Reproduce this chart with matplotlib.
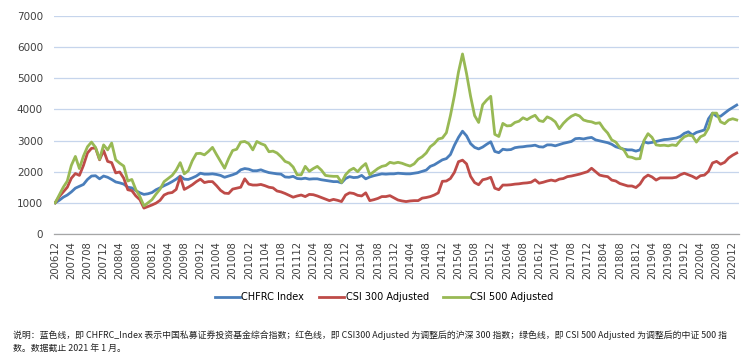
import matplotlib
matplotlib.use("Agg")
import matplotlib.pyplot as plt
import pandas as pd

# monthly points, 2006-12 .. 2021-01
months = pd.period_range("2006-12", "2021-01", freq="M")
month_labels = [p.strftime("%Y%m") for p in months]

chfrc = [
    1000, 1080, 1180, 1250, 1350, 1470, 1530, 1590, 1750, 1860, 1870, 1770,
    1860, 1820, 1750, 1670, 1640, 1600, 1500, 1480, 1390, 1320, 1270, 1290,
    1330, 1420, 1480, 1550, 1610, 1680, 1760, 1860, 1760, 1750, 1800, 1860,
    1950, 1920, 1920, 1930, 1910, 1880, 1820, 1860, 1900, 1950, 2060, 2100,
    2080, 2030, 2030, 2060, 2010, 1970, 1950, 1930, 1920, 1830, 1820, 1850,
    1780, 1770, 1790, 1760, 1770, 1770, 1740, 1720, 1700, 1680, 1680, 1640,
    1780, 1840, 1810, 1820, 1880, 1770, 1830, 1870, 1900, 1930, 1920, 1930,
    1930, 1950, 1940, 1930, 1930, 1950, 1970, 2010, 2050, 2170, 2220, 2300,
    2380, 2420, 2550, 2850, 3100, 3300, 3150, 2900, 2780, 2730, 2790, 2880,
    2960, 2650, 2610, 2720, 2700, 2710, 2770, 2790, 2800, 2820, 2830, 2850,
    2800, 2790, 2860, 2860, 2830, 2870, 2910, 2940, 2970, 3060, 3070, 3050,
    3080, 3100, 3020, 2990, 2960, 2930, 2880, 2800, 2760, 2720, 2700, 2700,
    2660, 2700, 2960, 2920, 2940, 2970, 3000, 3030, 3040, 3060, 3080, 3130,
    3230, 3280, 3180, 3260, 3300, 3340, 3700, 3880, 3780, 3780, 3880, 3980,
    4060, 4140,
]

csi300 = [
    1000, 1200, 1350, 1500, 1790, 1940, 1880, 2200, 2600, 2750, 2760, 2380,
    2680, 2330, 2290, 1960, 1990, 1790, 1420, 1390, 1220, 1100, 830, 880,
    930, 990, 1080, 1250, 1310, 1330, 1430, 1840, 1430, 1500, 1580, 1680,
    1760, 1650, 1680, 1680, 1550, 1400, 1310, 1300, 1440, 1470, 1500, 1770,
    1600, 1570, 1570, 1590, 1550, 1500, 1480, 1380, 1350, 1300, 1240, 1180,
    1220, 1250, 1200, 1270, 1260, 1220, 1170, 1120, 1070, 1110, 1080, 1040,
    1250, 1320, 1300, 1240, 1220, 1320, 1070, 1100, 1140, 1200, 1200, 1230,
    1160, 1090, 1060, 1040, 1060, 1070, 1070, 1150, 1170, 1200, 1250, 1320,
    1690, 1700, 1780, 1980, 2320, 2370, 2250, 1850, 1650, 1580, 1740, 1770,
    1820, 1470, 1420, 1570, 1570, 1580, 1600, 1610, 1630, 1640, 1660, 1740,
    1630, 1660, 1700, 1730, 1700, 1760, 1780, 1840, 1860, 1890, 1920, 1960,
    2000, 2110, 2000, 1890, 1860, 1840, 1730, 1700, 1620, 1580, 1540, 1540,
    1490, 1600, 1800, 1890, 1830, 1730, 1800, 1800, 1800, 1800, 1820, 1900,
    1950, 1900, 1850, 1780, 1870, 1890, 2010, 2280, 2330, 2240, 2300, 2440,
    2530, 2600,
]

csi500 = [
    1000, 1250, 1500, 1700, 2200, 2490, 2100, 2500, 2800, 2950, 2780, 2400,
    2860, 2700, 2920, 2380, 2270, 2180, 1700, 1750, 1420, 1200, 900, 1000,
    1100, 1280, 1440, 1680, 1780, 1880, 2050, 2290, 1930, 2030, 2350, 2580,
    2590, 2540, 2650, 2780, 2550, 2330, 2110, 2420, 2680, 2720, 2950, 2970,
    2900, 2700, 2970, 2900, 2850, 2640, 2660, 2600, 2480, 2330, 2280, 2150,
    1900, 1900, 2170, 2010, 2100, 2170, 2050, 1880, 1860, 1850, 1850, 1650,
    1900, 2040, 2110, 2000, 2150, 2260, 1900, 2000, 2100, 2170, 2200, 2300,
    2270, 2300, 2270, 2220, 2180, 2250, 2400, 2480, 2600, 2800, 2900, 3050,
    3080, 3250, 3800, 4450, 5200, 5780, 5150, 4420, 3800, 3580, 4150, 4300,
    4420, 3200, 3130, 3550, 3470, 3480, 3580, 3620, 3730, 3670, 3750, 3810,
    3640, 3610, 3760, 3700, 3600, 3380, 3550, 3680, 3780, 3840, 3790, 3660,
    3620, 3600, 3550, 3570, 3380, 3240, 3020, 2950, 2780, 2700, 2480, 2460,
    2410, 2420, 3000, 3220, 3100, 2860, 2840, 2850, 2830, 2860, 2840, 3000,
    3120, 3170, 3150, 2950, 3120, 3180, 3400, 3880, 3880, 3600, 3540, 3660,
    3700, 3660,
]

series_names = ["CHFRC Index", "CSI 300 Adjusted", "CSI 500 Adjusted"]
colors = ["#4a7ebb", "#be4b48", "#98b954"]

caption = ("说明：蓝色线，即 CHFRC_Index 表示中国私募证券投资基金综合指数；红色线，即 CSI300 "
           "Adjusted 为调整后的沪深 300 指数；绿色线，即 CSI 500 Adjusted 为调整后的中证 500 指\n"
           "数。数据截止 2021 年 1 月。")

fig = plt.figure(figsize=(7.5, 3.55), dpi=100)
ax = fig.add_axes([0.072, 0.341, 0.913, 0.614])

x = list(range(len(months)))
for vals, name, c in zip([chfrc, csi300, csi500], series_names, colors):
    ax.plot(x, vals, color=c, lw=2.0, label=name, solid_joinstyle="round")

ax.set_ylim(0, 7000)
ax.set_yticks(range(0, 7001, 1000))
ax.set_xlim(-0.3, len(months) - 0.5)
tick_pos = list(range(0, len(months), 4))
ax.set_xticks(tick_pos)
ax.set_xticklabels([month_labels[i] for i in tick_pos], rotation=90,
                   fontsize=7.2, color="#404040")
ax.tick_params(axis="y", labelsize=7.5, colors="#404040", length=0, pad=8)
ax.tick_params(axis="x", length=0, pad=5)

ax.grid(axis="y", color="#c6d5ec", lw=0.9)
ax.set_axisbelow(True)
for s in ["top", "right", "left"]:
    ax.spines[s].set_visible(False)
ax.spines["bottom"].set_color("#a6a6a6")
ax.spines["bottom"].set_linewidth(0.9)

fig.legend(loc="center", bbox_to_anchor=(0.512, 0.163), ncol=3, frameon=False,
           fontsize=7, handlelength=2.6, handletextpad=0.15, columnspacing=1.5)

fig.text(0.017, 0.008, caption, fontsize=6.4, linespacing=1.8,
         family=["Noto Sans CJK SC", "DejaVu Sans"], color="#222222")

fig.savefig("out.png", dpi=100)
